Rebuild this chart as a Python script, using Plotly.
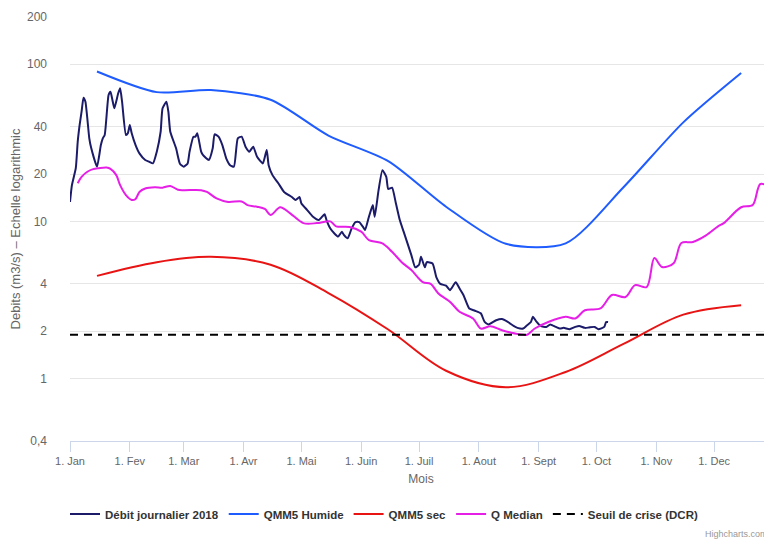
import math
import plotly.graph_objects as go

# ---------------- data ----------------
DEBIT_DATES = [
    "2018-01-01", "2018-01-02", "2018-01-04", "2018-01-05", "2018-01-06", "2018-01-07", "2018-01-08",
    "2018-01-09", "2018-01-11", "2018-01-12", "2018-01-15", "2018-01-17", "2018-01-18", "2018-01-19",
    "2018-01-21", "2018-01-22", "2018-01-23", "2018-01-24", "2018-01-26", "2018-01-27", "2018-01-28",
    "2018-01-30", "2018-01-31",
    "2018-02-01", "2018-02-02", "2018-02-04", "2018-02-06", "2018-02-09", "2018-02-11", "2018-02-13",
    "2018-02-15", "2018-02-17", "2018-02-18", "2018-02-20", "2018-02-21", "2018-02-22", "2018-02-25",
    "2018-02-27",
    "2018-03-01", "2018-03-03", "2018-03-04", "2018-03-06", "2018-03-07", "2018-03-08", "2018-03-10",
    "2018-03-11", "2018-03-14", "2018-03-16", "2018-03-17", "2018-03-19", "2018-03-21", "2018-03-23",
    "2018-03-25", "2018-03-27", "2018-03-29", "2018-03-31",
    "2018-04-02", "2018-04-04", "2018-04-06", "2018-04-08", "2018-04-11", "2018-04-13", "2018-04-14",
    "2018-04-16", "2018-04-19", "2018-04-22", "2018-04-26", "2018-04-28", "2018-04-30",
    "2018-05-01", "2018-05-04", "2018-05-07", "2018-05-10", "2018-05-13", "2018-05-14", "2018-05-16",
    "2018-05-18", "2018-05-20", "2018-05-22", "2018-05-23", "2018-05-25", "2018-05-27", "2018-05-29",
    "2018-05-31",
    "2018-06-02", "2018-06-03", "2018-06-05", "2018-06-07", "2018-06-08", "2018-06-10", "2018-06-12",
    "2018-06-14", "2018-06-15", "2018-06-17", "2018-06-19", "2018-06-21", "2018-06-23", "2018-06-27",
    "2018-06-29",
    "2018-07-01", "2018-07-02", "2018-07-04", "2018-07-05", "2018-07-08", "2018-07-10", "2018-07-12",
    "2018-07-15", "2018-07-17", "2018-07-20", "2018-07-22", "2018-07-24", "2018-07-27", "2018-07-30",
    "2018-08-02", "2018-08-04", "2018-08-06", "2018-08-10", "2018-08-13", "2018-08-16", "2018-08-19",
    "2018-08-21", "2018-08-24", "2018-08-26", "2018-08-28", "2018-08-29", "2018-08-31",
    "2018-09-02", "2018-09-05", "2018-09-07", "2018-09-10", "2018-09-12", "2018-09-14", "2018-09-17",
    "2018-09-20", "2018-09-22", "2018-09-25", "2018-09-27", "2018-09-30",
    "2018-10-02", "2018-10-05", "2018-10-06", "2018-10-07",
]
DEBIT_VALUES = [
    13.3, 17.0, 21.8, 32.1, 41.1, 49.9, 61.3, 57.8, 33.8, 29.3, 22.3, 30.6, 33.8, 35.5, 63.7, 66.9,
    59.2, 52.5, 65.4, 70.3, 57.8, 35.5, 36.4,
    41.1, 36.4, 30.6, 27.1, 24.6, 24.0, 23.4, 27.8, 37.2, 52.5, 57.8, 49.9, 37.2, 29.2, 23.3,
    22.3, 23.4, 27.8, 34.6, 34.6, 36.4, 27.8, 26.4, 24.6, 29.2, 35.8, 34.6, 30.6, 25.2, 22.8, 22.3,
    33.8, 34.6,
    29.9, 27.8, 29.9, 25.8, 23.4, 28.5, 22.8, 19.7, 17.5, 15.4, 14.3, 13.7, 14.3,
    13.0, 11.8, 10.7, 10.2, 11.1, 10.2, 9.0, 8.4, 8.0, 8.6, 8.2, 7.8, 9.0, 9.9, 9.9,
    9.2, 8.8, 10.7, 12.7, 10.7, 15.8, 21.2, 19.2, 16.1, 16.4, 13.0, 10.2, 8.6, 6.1, 5.1,
    5.3, 5.95, 5.1, 5.5, 5.4, 4.4, 4.0, 3.9, 3.65, 4.1, 3.74, 3.4, 2.79, 2.7,
    2.6, 2.29, 2.21, 2.35, 2.39, 2.29, 2.16, 2.10, 2.08, 2.18, 2.29, 2.47, 2.29,
    2.16, 2.13, 2.21, 2.13, 2.08, 2.10, 2.06, 2.13, 2.16, 2.10, 2.11, 2.13,
    2.06, 2.13, 2.29, 2.29,
]

MEDIAN_DATES = [
    "2018-01-05", "2018-01-07", "2018-01-10", "2018-01-13", "2018-01-16", "2018-01-20", "2018-01-22",
    "2018-01-25", "2018-01-27", "2018-01-30", "2018-02-02", "2018-02-04", "2018-02-06", "2018-02-09",
    "2018-02-14", "2018-02-18", "2018-02-22", "2018-02-26", "2018-03-01", "2018-03-10", "2018-03-13",
    "2018-03-18", "2018-03-24", "2018-03-31", "2018-04-03", "2018-04-08", "2018-04-12", "2018-04-15",
    "2018-04-20", "2018-04-25", "2018-05-02", "2018-05-09", "2018-05-16", "2018-05-19", "2018-05-26",
    "2018-06-01", "2018-06-05", "2018-06-12", "2018-06-17", "2018-06-22", "2018-06-27", "2018-07-03",
    "2018-07-07", "2018-07-11", "2018-07-17", "2018-07-22", "2018-07-29", "2018-08-02", "2018-08-07",
    "2018-08-13", "2018-08-22", "2018-08-26", "2018-08-30", "2018-09-06", "2018-09-15", "2018-09-20",
    "2018-09-25", "2018-10-03", "2018-10-09", "2018-10-16", "2018-10-21", "2018-10-27", "2018-10-31",
    "2018-11-04", "2018-11-10", "2018-11-14", "2018-11-20", "2018-11-27", "2018-12-03", "2018-12-06",
    "2018-12-15", "2018-12-21", "2018-12-25", "2018-12-31",
]
MEDIAN_VALUES = [
    17.5, 19.2, 20.7, 21.5, 21.8, 22.0, 21.6, 19.7, 17.0, 14.7, 13.7, 13.9, 15.4, 16.2,
    16.5, 16.4, 16.8, 15.9, 15.8, 15.8, 15.4, 14.0, 13.3, 13.4, 12.7, 12.4, 12.0, 11.0,
    12.3, 11.3, 9.75, 9.75, 10.0, 9.3, 9.2, 8.6, 7.6, 7.24, 6.4, 5.5, 4.9, 4.1,
    4.0, 3.48, 3.08, 2.66, 2.41, 2.08, 2.15, 2.03, 1.91, 1.90, 2.08, 2.29, 2.47, 2.41,
    2.72, 2.79, 3.40, 3.3, 3.93, 3.82, 5.84, 5.12, 5.42, 7.28, 7.4, 8.18, 9.3, 9.75,
    12.3, 12.7, 17.3, 16.3,
]

QMM5_DATES = [
    "2018-01-15", "2018-02-15", "2018-03-15", "2018-04-15", "2018-05-15", "2018-06-15",
    "2018-07-15", "2018-08-15", "2018-09-15", "2018-10-15", "2018-11-15", "2018-12-15",
]
QMM5_HUMIDE = [90, 66.5, 68.6, 59.5, 35.2, 24.2, 12.4, 7.2, 7.25, 16.5, 42.7, 88]
QMM5_SEC = [4.5, 5.5, 5.95, 5.3, 3.5, 2.05, 1.12, 0.88, 1.1, 1.66, 2.55, 2.93]

SEUIL_DCR = 1.9

X_RANGE = ["2018-01-01", "2018-12-31"]
MONTH_TICKS = [
    "2018-01-01", "2018-02-01", "2018-03-01", "2018-04-01", "2018-05-01", "2018-06-01",
    "2018-07-01", "2018-08-01", "2018-09-01", "2018-10-01", "2018-11-01", "2018-12-01",
]
MONTH_LABELS = ["1. Jan", "1. Fev", "1. Mar", "1. Avr", "1. Mai", "1. Juin",
                "1. Juil", "1. Aout", "1. Sept", "1. Oct", "1. Nov", "1. Dec"]
Y_TICKS = [0.4, 1, 2, 4, 10, 20, 40, 100, 200]
Y_LABELS = ["0,4", "1", "2", "4", "10", "20", "40", "100", "200"]

# ---------------- figure ----------------
FONT = "Liberation Sans, Arial, sans-serif"
# the page places the figure 8 px from the top-left corner
FIG_W, FIG_H = 764, 533

fig = go.Figure()
fig.add_trace(go.Scatter(
    x=DEBIT_DATES, y=DEBIT_VALUES, name="Débit journalier 2018", mode="lines",
    line=dict(color="#1b1b6a", width=2, shape="spline", smoothing=0.5)))
fig.add_trace(go.Scatter(
    x=QMM5_DATES, y=QMM5_HUMIDE, name="QMM5 Humide", mode="lines",
    line=dict(color="#1f5cff", width=2, shape="spline", smoothing=0.75)))
fig.add_trace(go.Scatter(
    x=QMM5_DATES, y=QMM5_SEC, name="QMM5 sec", mode="lines",
    line=dict(color="#e81414", width=2, shape="spline", smoothing=1.0)))
fig.add_trace(go.Scatter(
    x=MEDIAN_DATES, y=MEDIAN_VALUES, name="Q Median", mode="lines",
    line=dict(color="#e61fe6", width=2, shape="spline", smoothing=0.9)))
fig.add_trace(go.Scatter(
    x=X_RANGE, y=[SEUIL_DCR, SEUIL_DCR], name="Seuil de crise (DCR)", mode="lines",
    line=dict(color="#000000", width=2, dash="8px,6px")))

fig.update_layout(
    width=FIG_W, height=FIG_H,
    margin=dict(l=62, r=0, t=9, b=100, autoexpand=False),
    paper_bgcolor="white", plot_bgcolor="white",
    font=dict(family=FONT, color="#666666"),
    hovermode=False,
    showlegend=True,
    legend=dict(
        orientation="h", xref="container", yref="container",
        x=(384 - 8) / FIG_W, xanchor="center", y=(FIG_H - 506) / FIG_H, yanchor="middle",
        font=dict(family=FONT, size=11.5, color="#333333", weight="bold"),
        bgcolor="rgba(0,0,0,0)", itemwidth=30,
    ),
    xaxis=dict(
        type="date", range=X_RANGE, tickvals=MONTH_TICKS, ticktext=MONTH_LABELS,
        showgrid=False, zeroline=False, showline=True, linecolor="#ccd6eb", linewidth=1,
        ticks="outside", ticklen=10, tickcolor="#ccd6eb", tickwidth=1,
        tickfont=dict(size=11, color="#666666"),
        title=dict(text="Mois", font=dict(size=12, color="#666666"), standoff=8),
        automargin=False, fixedrange=True,
    ),
    yaxis=dict(
        type="log", range=[math.log10(0.4), math.log10(200)],
        tickvals=Y_TICKS, ticktext=Y_LABELS,
        showgrid=True, gridcolor="#e6e6e6", gridwidth=1, zeroline=False, showline=False,
        ticks="", ticklabelstandoff=22,
        tickfont=dict(size=12, color="#666666"),
        title=dict(text="Debits (m3/s) – Echelle logarithmic",
                   font=dict(size=13, color="#666666"), standoff=4),
        automargin=False, fixedrange=True,
    ),
    annotations=[dict(
        text="Highcharts.com", xref="paper", yref="paper", x=1, y=(433 - 526) / 424,
        xanchor="right", yanchor="middle", xshift=-2, showarrow=False,
        font=dict(size=9, color="#999999"))],
)

fig.write_html("out.html")
